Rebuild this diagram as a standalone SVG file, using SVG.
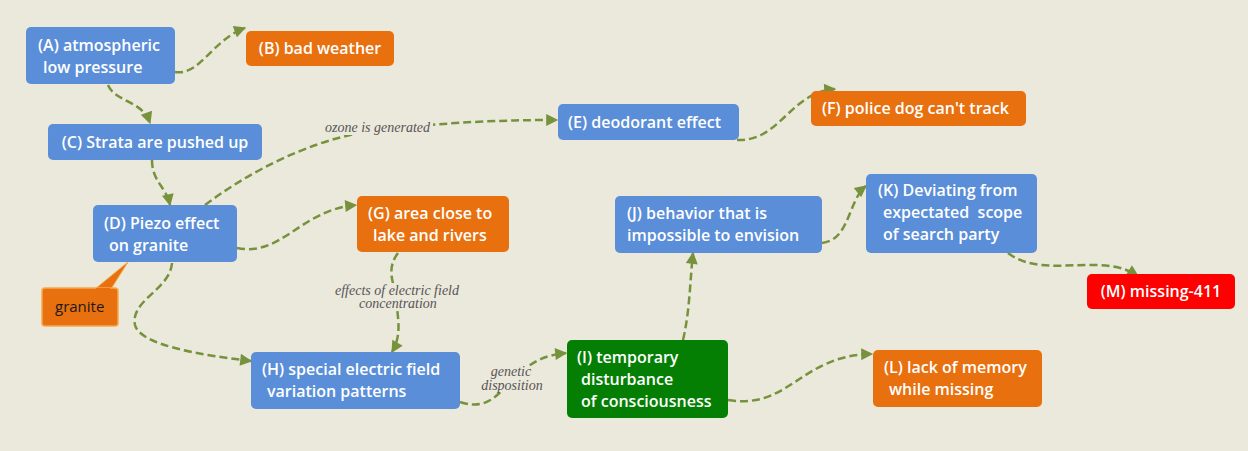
<svg xmlns="http://www.w3.org/2000/svg" width="1248" height="451" viewBox="0 0 1248 451">
<defs>
<marker id="ah" viewBox="0 0 10 10" refX="9" refY="5" markerWidth="14" markerHeight="12" markerUnits="userSpaceOnUse" orient="auto">
<path d="M0,0 L10,5 L0,10 z" fill="#76923c"/>
</marker>
</defs>
<style>
.blue{fill:#5a8ed8}
.orange{fill:#e8700e}
.green{fill:#047f04}
.red{fill:#fe0000}
.t{font-family:"Open Sans","Noto Sans",sans-serif;font-weight:600;font-size:16px;fill:#ffffff}
.c{text-anchor:middle}
.lbl{font-family:"Liberation Serif",serif;font-style:italic;font-size:14px;fill:#555555}
.e{fill:none;stroke:#76923c;stroke-width:2.5;stroke-dasharray:8 4;marker-end:url(#ah)}
.bg{fill:#ebe8dc}
</style>
<rect width="1248" height="451" fill="#ebe8dc"/>
<g id="connectors">
<path class="e" d="M175,72 C200,76 212,40 245,28"/>
<path class="e" d="M108,85 C115,102 142,100 150,123"/>
<path class="e" d="M152,160 C152,182 166,186 170,205"/>
<path class="e" d="M205,205 C265,160 330,135 380,130 C450,122 500,120 557,120"/>
<path class="e" d="M737,140 C780,142 790,92 835,89"/>
<path class="e" d="M237,248 C282,257 300,210 356,205"/>
<path class="e" d="M172,263 C170,290 130,300 135,325 C140,345 200,355 251,361"/>
<path class="e" d="M398,253 C385,270 395,285 396,298 C398,320 402,335 392,352"/>
<path class="e" d="M460,402 C490,412 500,390 515,378 C530,362 545,355 566,353"/>
<path class="e" d="M683,340 C690,310 690,280 693,253"/>
<path class="e" d="M728,400 C790,410 800,355 872,354"/>
<path class="e" d="M822,243 C850,240 848,200 866,186"/>
<path class="e" d="M1008,253 C1030,270 1060,265 1090,265 C1115,265 1125,268 1138,276"/>
<rect class="bg" x="324" y="121" width="109" height="14"/>
<text class="lbl" x="325" y="132">ozone is generated</text>
<rect class="bg" x="335" y="283" width="126" height="27"/>
<text class="lbl c" x="397" y="295">effects of electric field</text>
<text class="lbl c" x="398" y="308">concentration</text>
<rect class="bg" x="480" y="366" width="65" height="26"/>
<text class="lbl c" x="511" y="376">genetic</text>
<text class="lbl c" x="512" y="390">disposition</text>
</g>
<g id="A"><rect class="blue" x="26" y="27" width="149" height="57" rx="5"/><text class="t" x="38" y="51">(A) atmospheric</text><text class="t" x="43" y="73">low pressure</text></g>
<g id="B"><rect class="orange" x="246" y="31" width="148" height="35" rx="5"/><text class="t c" x="320" y="54">(B) bad weather</text></g>
<g id="C"><rect class="blue" x="48" y="124" width="214" height="36" rx="5"/><text class="t c" x="155" y="148">(C) Strata are pushed up</text></g>
<g id="D"><rect class="blue" x="93" y="205" width="144" height="57" rx="5"/><text class="t" x="104" y="229">(D) Piezo effect</text><text class="t" x="109" y="251">on granite</text></g>
<g id="granite"><path d="M95,289 L128,262 L111,289 z" fill="#e8700e" stroke="#f7a84a" stroke-width="1"/><rect x="42" y="288" width="76" height="38" rx="3" fill="#e8700e" stroke="#f7a84a" stroke-width="1.5"/><path d="M96,289 L110,289" stroke="#e8700e" stroke-width="2"/><text x="55" y="312" style="font-family:'Open Sans','Noto Sans',sans-serif;font-size:15px;fill:#1a1a1a">granite</text></g>
<g id="E"><rect class="blue" x="558" y="104" width="181" height="36" rx="5"/><text class="t" x="568" y="128">(E) deodorant effect</text></g>
<g id="F"><rect class="orange" x="811" y="91" width="215" height="35" rx="5"/><text class="t" x="822" y="114">(F) police dog can't track</text></g>
<g id="G"><rect class="orange" x="357" y="196" width="152" height="56" rx="5"/><text class="t" x="368" y="219">(G) area close to</text><text class="t" x="373" y="241">lake and rivers</text></g>
<g id="H"><rect class="blue" x="251" y="352" width="209" height="57" rx="5"/><text class="t" x="262" y="375">(H) special electric field</text><text class="t" x="267" y="397">variation patterns</text></g>
<g id="I"><rect class="green" x="567" y="340" width="161" height="78" rx="5"/><text class="t" x="577" y="363">(I) temporary</text><text class="t" x="581" y="385">disturbance</text><text class="t" x="581" y="407">of consciousness</text></g>
<g id="J"><rect class="blue" x="615" y="196" width="207" height="57" rx="5"/><text class="t" x="627" y="219">(J) behavior that is</text><text class="t" x="627" y="241">impossible to envision</text></g>
<g id="K"><rect class="blue" x="866" y="174" width="171" height="79" rx="5"/><text class="t" x="878" y="196">(K) Deviating from</text><text class="t" x="883" y="218" xml:space="preserve">expectated  scope</text><text class="t" x="883" y="240">of search party</text></g>
<g id="L"><rect class="orange" x="873" y="350" width="169" height="57" rx="5"/><text class="t" x="884" y="373">(L) lack of memory</text><text class="t" x="889" y="395">while missing</text></g>
<g id="M"><rect class="red" x="1087" y="274" width="148" height="35" rx="5"/><text class="t c" x="1161" y="297">(M) missing-411</text></g>
</svg>
